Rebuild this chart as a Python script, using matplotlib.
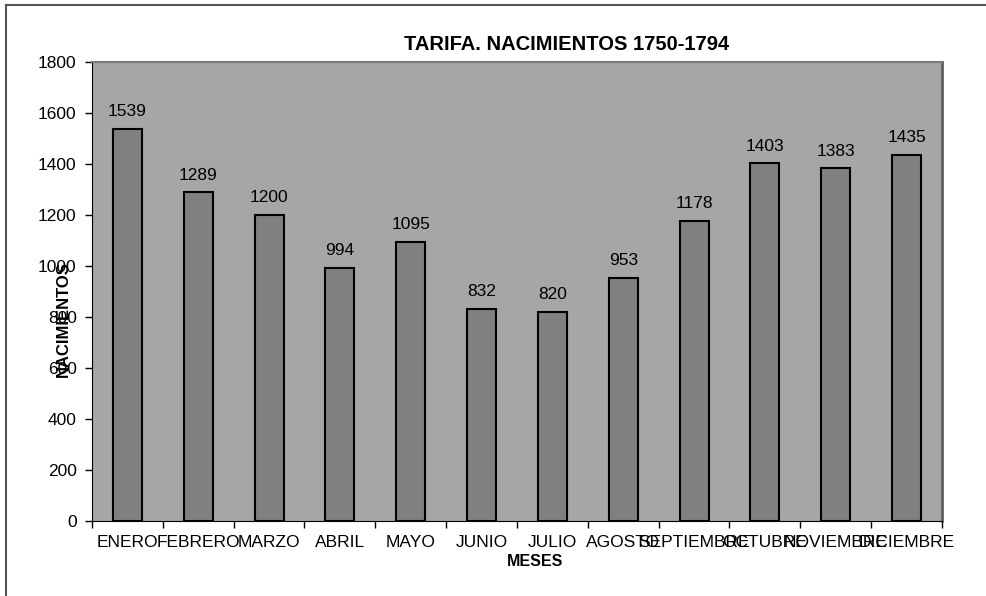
import matplotlib.pyplot as plt
import numpy as np
from matplotlib.lines import Line2D

plt.rcParams['font.family'] = ['Liberation Sans', 'DejaVu Sans']

meses = ['ENERO', 'FEBRERO', 'MARZO', 'ABRIL', 'MAYO', 'JUNIO', 'JULIO',
         'AGOSTO', 'SEPTIEMBRE', 'OCTUBRE', 'NOVIEMBRE', 'DICIEMBRE']
nacimientos = [1539, 1289, 1200, 994, 1095, 832, 820, 953, 1178, 1403, 1383, 1435]
yticks = [0, 200, 400, 600, 800, 1000, 1200, 1400, 1600, 1800]

W, H = 986, 596
fig = plt.figure(figsize=(W / 100, H / 100), dpi=100)
ax = fig.add_axes([92 / W, 1 - 521 / H, (942 - 92) / W, (521 - 62) / H])
ax.set_facecolor('#a6a6a6')

x = np.arange(len(meses))
bars = ax.bar(x, nacimientos, width=0.41, color='#808080', edgecolor='black', linewidth=1.5)
for b, v in zip(bars, nacimientos):
    ax.annotate(str(v), (b.get_x() + b.get_width() / 2, v), xytext=(0, 7),
                textcoords='offset points', ha='center', va='bottom', fontsize=12.5)

ax.set_xlim(-0.5, len(meses) - 0.5)
ax.set_ylim(0, 1800)
ax.set_yticks(yticks)
ax.tick_params(axis='y', labelsize=12.5, length=5, width=1, direction='out', pad=6)

ax.set_xticks(x)
ax.set_xticklabels(meses)
ax.tick_params(axis='x', which='major', length=0, labelsize=12.5, pad=10)
ax.set_xticks(np.arange(-0.5, len(meses)), minor=True)
ax.tick_params(axis='x', which='minor', length=5, width=1, direction='out')

ax.spines['left'].set_color('black')
ax.spines['bottom'].set_color('black')
ax.spines['top'].set_color('#7a7a7a')
ax.spines['top'].set_linewidth(1.5)
ax.spines['right'].set_color('#606060')
ax.spines['right'].set_linewidth(2)

fig.text(567 / W, 1 - 44 / H, 'TARIFA. NACIMIENTOS 1750-1794', ha='center', va='center',
         fontsize=14.5, fontweight='bold')
fig.text(535 / W, 1 - 561 / H, 'MESES', ha='center', va='center', fontsize=11.5, fontweight='bold')
fig.text(63 / W, 1 - 319 / H, 'NACIMIENTOS', ha='center', va='center', rotation=90,
         fontsize=12, fontweight='bold')

# outer frame (only left and top visible)
fig.add_artist(Line2D([6 / W, 6 / W], [0, 1 - 5 / H], transform=fig.transFigure, color='#555555', lw=1.5))
fig.add_artist(Line2D([6 / W, 1], [1 - 5 / H, 1 - 5 / H], transform=fig.transFigure, color='#555555', lw=1.5))

fig.savefig('out.png', dpi=100)
